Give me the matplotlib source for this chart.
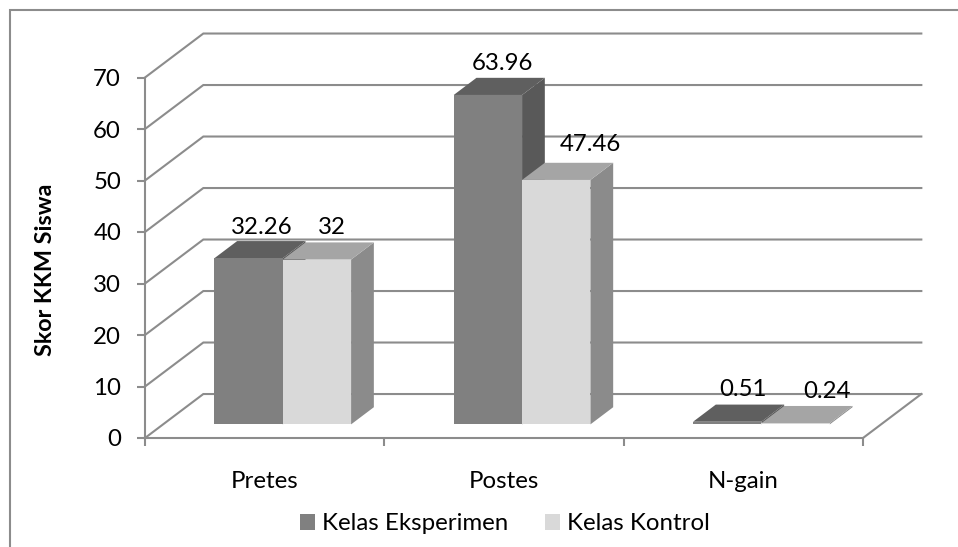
import matplotlib
matplotlib.use('Agg')
import matplotlib.pyplot as plt
from matplotlib.lines import Line2D

categories = ['Pretes', 'Postes', 'N-gain']
eksperimen = [32.26, 63.96, 0.51]
kontrol = [32, 47.46, 0.24]
y_ticks = [0, 10, 20, 30, 40, 50, 60, 70]

# label offsets from the top of each bar front, in pixels
off_eksperimen = [(13, 31), (15, 31), (16, 32)]
off_kontrol = [(15, 32), (34, 35), (31, 32)]

plt.rcParams['font.family'] = ['Lato', 'DejaVu Sans']

W, H = 958, 547
fig = plt.figure(figsize=(W / 100, H / 100), dpi=100)
ax = fig.add_axes([145 / W, 1 - 438 / H, (863 - 145) / W, (438 - 77.5) / H])
ax.set_xlim(0, 3)
ax.set_ylim(0, 70)

grey = '#8c8c8c'
fs = 17.3
depth_x = 0.2437   # wall depth in category units
depth_y = 8.54     # wall depth in y units
bar_w = 0.2856
d_front, d_back = 0.31, 0.70


def px(pixels):
    return pixels * 72 / 100


def deep(x, y, d):
    # oblique projection, d=0 is the front plane and d=1 the back wall
    return x + d * depth_x, y + d * depth_y


# walls and gridlines
for t in y_ticks:
    bx, by = deep(0, t, 1)
    ex, ey = deep(3, t, 1)
    ax.plot([0, bx, ex], [t, by, ey], color=grey, lw=1.5, clip_on=False, zorder=1,
            solid_joinstyle='miter')
fx, fy = deep(3, 0, 1)
ax.plot([3, fx], [0, fy], color=grey, lw=1.5, clip_on=False, zorder=1)


def bars3d(centers, values, front, top, side):
    bottom = d_front * depth_y
    shift = d_front * depth_x
    for x, v in zip(centers, values):
        left = x - bar_w / 2 + shift
        right = left + bar_w
        y1 = bottom + v
        dd = d_back - d_front
        ax.fill([left, right, right + dd * depth_x, left + dd * depth_x],
                [y1, y1, y1 + dd * depth_y, y1 + dd * depth_y],
                color=top, lw=0, clip_on=False, zorder=3)
        ax.fill([right, right + dd * depth_x, right + dd * depth_x, right],
                [bottom, bottom + dd * depth_y, y1 + dd * depth_y, y1],
                color=side, lw=0, clip_on=False, zorder=2)
    return ax.bar([x + shift for x in centers], values, bar_w, bottom=bottom,
                  color=front, lw=0, clip_on=False, zorder=4)


pos = [i + 0.5 for i in range(3)]
pos_a = [p - bar_w / 2 for p in pos]
pos_b = [p + bar_w / 2 for p in pos]
# light series first so the dark tops overlap it the way they do in the chart
bars_b = bars3d(pos_b, kontrol, '#d9d9d9', '#a5a5a5', '#8b8b8b')
bars_a = bars3d(pos_a, eksperimen, '#808080', '#5f5f5f', '#595959')

for centers, vals, offs in [(pos_a, eksperimen, off_eksperimen), (pos_b, kontrol, off_kontrol)]:
    for x, v, o in zip(centers, vals, offs):
        ax.annotate(str(v), (x + d_front * depth_x, v + d_front * depth_y),
                    xytext=(px(o[0]), px(o[1])), textcoords='offset points',
                    ha='center', va='center', fontsize=fs, color='black', zorder=6)

# axes
for s in ['top', 'right']:
    ax.spines[s].set_visible(False)
for s in ['left', 'bottom']:
    ax.spines[s].set_color(grey)
    ax.spines[s].set_linewidth(1.5)
    ax.spines[s].set_zorder(5)
ax.patch.set_visible(False)
ax.set_yticks(y_ticks)
ax.set_xticks([0, 1, 2, 3])
ax.set_xticklabels([])
ax.set_xticks(pos, categories, minor=True)
ax.tick_params(axis='both', which='major', length=px(8), width=1.5, color=grey,
               labelsize=fs, labelcolor='black', pad=px(16))
ax.tick_params(axis='x', which='minor', length=0, labelsize=fs, pad=px(33))
ax.set_ylabel('Skor KKM Siswa', fontsize=16.8, fontweight='bold')
ax.yaxis.set_label_coords(56 / W, 1 - 269.5 / H, transform=fig.transFigure)

fig.legend([bars_a, bars_b], ['Kelas Eksperimen', 'Kelas Kontrol'], loc='center',
           bbox_to_anchor=(505 / W, 1 - 524 / H), ncol=2, frameon=False, fontsize=fs,
           handlelength=0.625, handleheight=0.625, handletextpad=0.3, columnspacing=1.5)

# the outer frame only shows on the top and left of the picture
fig.add_artist(Line2D([10 / W, 10 / W, 1], [0, 1 - 10 / H, 1 - 10 / H], color=grey, lw=1.5,
                      transform=fig.transFigure, solid_joinstyle='miter'))

fig.savefig('out.png', dpi=100)
